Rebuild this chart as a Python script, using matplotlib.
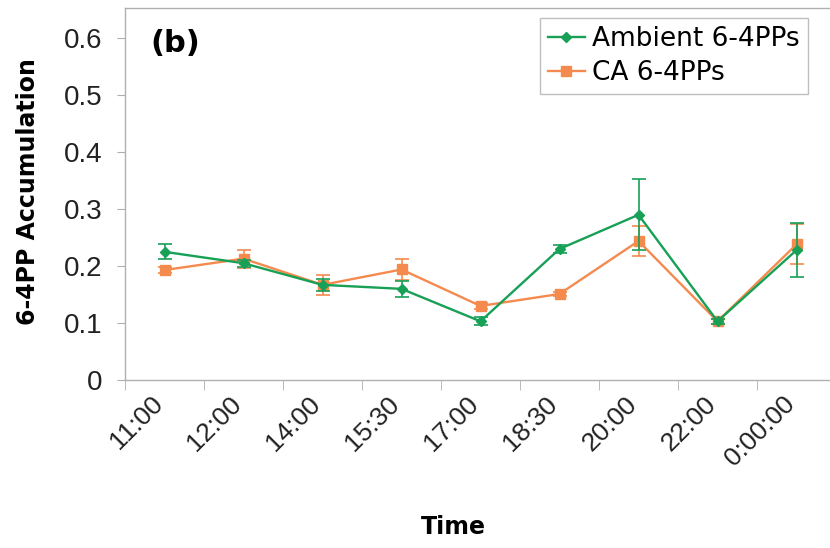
import matplotlib
matplotlib.use("Agg")
import matplotlib.pyplot as plt
from matplotlib.lines import Line2D
from matplotlib.transforms import ScaledTranslation
import numpy as np

times = ["11:00", "12:00", "14:00", "15:30", "17:00", "18:30", "20:00", "22:00", "0:00:00"]
ambient = [0.225, 0.205, 0.167, 0.160, 0.103, 0.230, 0.290, 0.103, 0.228]
ambient_err = [0.013, 0.006, 0.010, 0.014, 0.007, 0.007, 0.062, 0.004, 0.048]
ca = [0.193, 0.213, 0.167, 0.194, 0.130, 0.151, 0.244, 0.103, 0.238]
ca_err = [0.006, 0.016, 0.017, 0.019, 0.005, 0.004, 0.026, 0.004, 0.035]

green = "#17a056"
orange = "#f58a4e"
spine_col = "#b0b0b0"

fig = plt.figure(figsize=(8.3, 5.48), dpi=100)
ax = fig.add_axes([125 / 830, 1 - 380 / 548, 711 / 830, 372 / 548])

x = np.arange(len(times))
ax.errorbar(x, ambient, yerr=ambient_err, color=green, marker="D", markersize=5.5,
            linewidth=1.7, elinewidth=1.2, capsize=5, capthick=1.2, zorder=3)
ax.errorbar(x, ca, yerr=ca_err, color=orange, marker="s", markersize=7,
            linewidth=1.7, elinewidth=1.2, capsize=5, capthick=1.2, zorder=2)

ax.set_xlim(-0.5, len(times) - 0.5)
ax.set_ylim(0, 0.653)
ax.set_yticks([0, 0.1, 0.2, 0.3, 0.4, 0.5, 0.6])
ax.set_yticklabels(["0", "0.1", "0.2", "0.3", "0.4", "0.5", "0.6"],
                   fontsize=20, family="Liberation Sans", color="#222222")

ax.set_xticks(x)
ax.set_xticklabels(times, rotation=45, ha="right", va="top", rotation_mode="anchor",
                   fontsize=19, family="Liberation Sans", color="#222222")
ax.tick_params(axis="x", which="major", length=0, pad=10)
shift = ScaledTranslation(-14 / 100, 2 / 100, fig.dpi_scale_trans)
for lbl in ax.get_xticklabels():
    lbl.set_transform(lbl.get_transform() + shift)
ax.set_xticks(np.arange(len(times)) - 0.5, minor=True)
ax.tick_params(axis="x", which="minor", length=7, color=spine_col, direction="out")
ax.tick_params(axis="y", length=6, color=spine_col, direction="out", pad=10)

for side in ["left", "bottom", "top"]:
    ax.spines[side].set_color(spine_col)
    ax.spines[side].set_linewidth(1.0)
ax.spines["right"].set_visible(False)

ax.set_ylabel("6-4PP Accumulation", fontsize=17, fontweight="bold")
ax.yaxis.set_label_coords((40 - 125) / 711, (380 - 192) / 372)
ax.set_xlabel("Time", fontsize=17, fontweight="bold")
ax.xaxis.set_label_coords((453 - 125) / 711, -(515 - 380) / 372)

fig.text(150 / 830, 1 - 52 / 548, "(b)", fontsize=22, fontweight="bold",
         va="baseline", ha="left")

handles = [
    Line2D([], [], color=green, marker="D", markersize=5.5, linewidth=1.7),
    Line2D([], [], color=orange, marker="s", markersize=7, linewidth=1.7),
]
leg = ax.legend(handles, ["Ambient 6-4PPs", "CA 6-4PPs"], loc="upper right",
                bbox_to_anchor=(808 / 830, 1 - 18 / 548),
                bbox_transform=fig.transFigure, fontsize=19, frameon=True,
                fancybox=False, edgecolor=spine_col, handlelength=1.4,
                handletextpad=0.3, borderpad=0.3, labelspacing=0.3,
                borderaxespad=0)
leg.get_frame().set_linewidth(1.0)

fig.savefig("out.png", dpi=100)
